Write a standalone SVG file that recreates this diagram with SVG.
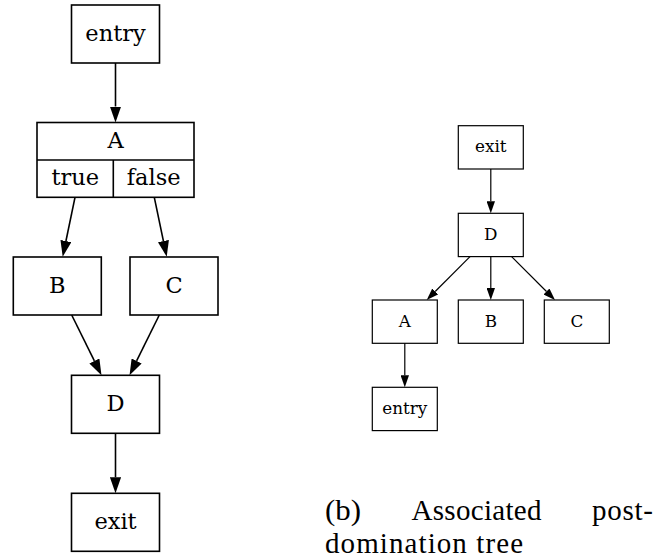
<svg xmlns="http://www.w3.org/2000/svg" width="656" height="560" viewBox="0 0 656 560">
<style>
.n rect, .n line { fill: #fff; stroke: #000; }
.L rect, .L line { stroke-width: 1.6; }
.R rect { stroke-width: 1.2; }
.t { font-family: "DejaVu Serif", serif; fill: #000; text-anchor: middle; }
.L .t { font-size: 22.5px; }
.R .t { font-size: 16.8px; }
.e line { stroke: #000; fill: none; marker-end: url(#ah); }
.eL line { stroke-width: 1.6; }
.eR line { stroke-width: 1.2; }
.cap { font-family: "Liberation Serif", "Times New Roman", serif; font-size: 29px; fill: #000; }
</style>
<defs>
<marker id="ah" viewBox="0 0 10 7" refX="0" refY="3.5" markerWidth="10" markerHeight="7" markerUnits="strokeWidth" orient="auto">
<path d="M0,0 L10,3.5 L0,7 Z" fill="#000"/>
</marker>
</defs>
<rect width="656" height="560" fill="#fff"/>

<g id="left" class="L">
<g id="l-entry" class="n"><rect x="71.5" y="5" width="88" height="58"/><text class="t" x="115.5" y="40.5">entry</text></g>
<g id="l-A" class="n"><rect x="37" y="122.5" width="157" height="74.8"/><line x1="37" y1="160" x2="194" y2="160"/><line x1="113.3" y1="160" x2="113.3" y2="197.3"/>
<text class="t" x="115.5" y="147.8">A</text><text class="t" x="75.2" y="185.2">true</text><text class="t" x="153.7" y="185.2">false</text></g>
<g id="l-B" class="n"><rect x="13.3" y="257" width="88" height="58"/><text class="t" x="57.3" y="292.5">B</text></g>
<g id="l-C" class="n"><rect x="130" y="257" width="88" height="58"/><text class="t" x="174" y="292.5">C</text></g>
<g id="l-D" class="n"><rect x="71.5" y="375.3" width="88" height="58"/><text class="t" x="115.5" y="410.8">D</text></g>
<g id="l-exit" class="n"><rect x="71.5" y="493.3" width="88" height="58"/><text class="t" x="115.5" y="528.8">exit</text></g>
</g>

<g id="left-edges" class="e eL">
<line x1="115.5" y1="63" x2="115.5" y2="106.5"/>
<line x1="75" y1="197.3" x2="65.94" y2="241.03"/>
<line x1="154.3" y1="197.3" x2="163.43" y2="241.04"/>
<line x1="71.7" y1="315" x2="94.38" y2="360.97"/>
<line x1="159.3" y1="315" x2="136.62" y2="360.97"/>
<line x1="115.5" y1="433.3" x2="115.5" y2="477.3"/>
</g>

<g id="right" class="R">
<g id="r-exit" class="n"><rect x="458.3" y="125.7" width="65" height="43.3"/><text class="t" x="490.8" y="152.4">exit</text></g>
<g id="r-D" class="n"><rect x="458.3" y="213.3" width="65" height="43.3"/><text class="t" x="490.8" y="240">D</text></g>
<g id="r-A" class="n"><rect x="372.3" y="300" width="65" height="43.3"/><text class="t" x="404.8" y="326.7">A</text></g>
<g id="r-B" class="n"><rect x="458.3" y="300" width="65" height="43.3"/><text class="t" x="490.8" y="326.7">B</text></g>
<g id="r-C" class="n"><rect x="544.3" y="300" width="65" height="43.3"/><text class="t" x="576.8" y="326.7">C</text></g>
<g id="r-entry" class="n"><rect x="372.3" y="387.3" width="65" height="43.3"/><text class="t" x="404.8" y="414">entry</text></g>
</g>

<g id="right-edges" class="e eR">
<line x1="490.8" y1="169" x2="490.8" y2="201.3"/>
<line x1="470" y1="256.6" x2="435.19" y2="291.51"/>
<line x1="490.8" y1="256.6" x2="490.8" y2="288"/>
<line x1="511.6" y1="256.6" x2="546.5" y2="291.5"/>
<line x1="404.8" y1="343.3" x2="404.8" y2="375.3"/>
</g>

<g id="caption">
<text class="cap" x="325" y="520" textLength="36" lengthAdjust="spacingAndGlyphs">(b)</text>
<text class="cap" x="411.5" y="520" textLength="130" lengthAdjust="spacing">Associated</text>
<text class="cap" x="592" y="520" textLength="61" lengthAdjust="spacing">post-</text>
<text class="cap" x="325" y="553" textLength="198" lengthAdjust="spacing">domination tree</text>
</g>
</svg>
